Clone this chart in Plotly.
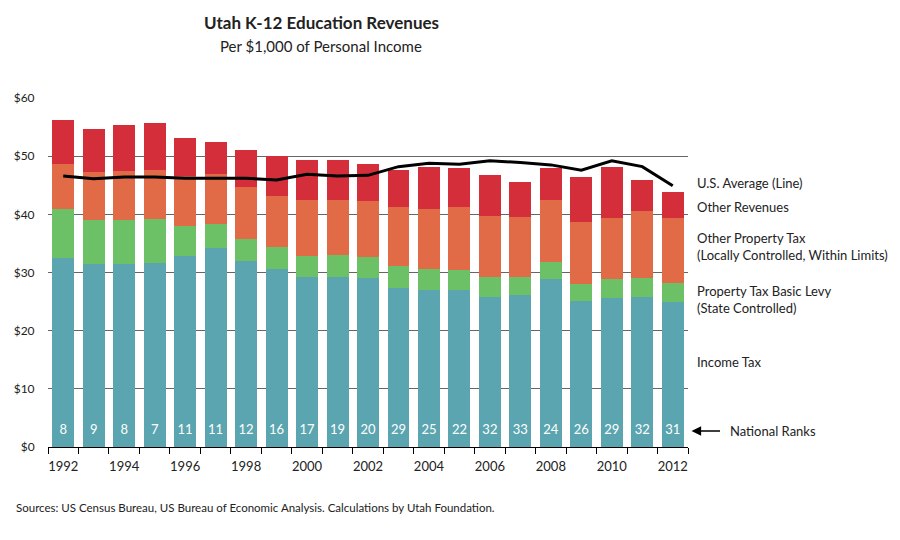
import plotly.graph_objects as go

years = list(range(1992, 2013))
income_tax = [32.5, 31.5, 31.5, 31.6, 32.8, 34.2, 31.9, 30.6, 29.2, 29.2, 29.1,
              27.3, 27.0, 27.0, 25.8, 26.2, 28.8, 25.1, 25.7, 25.8, 25.0]
basic_levy = [8.5, 7.5, 7.6, 7.6, 5.2, 4.1, 3.9, 3.7, 3.7, 3.8, 3.5,
              3.8, 3.6, 3.5, 3.4, 3.1, 3.0, 2.9, 3.2, 3.3, 3.2]
other_prop = [7.7, 8.3, 8.3, 8.5, 8.6, 8.7, 8.9, 8.8, 9.6, 9.5, 9.7,
              10.2, 10.4, 10.7, 10.5, 10.3, 10.7, 10.7, 10.5, 11.5, 11.2]
other_rev = [7.6, 7.4, 8.0, 8.0, 6.6, 5.5, 6.3, 6.9, 6.9, 6.8, 6.4,
             6.4, 7.2, 6.8, 7.0, 5.9, 5.5, 7.7, 8.7, 5.3, 4.4]
us_average = [46.6, 46.1, 46.4, 46.4, 46.2, 46.2, 46.2, 45.9, 46.9, 46.6, 46.7,
              48.2, 48.8, 48.6, 49.2, 48.9, 48.5, 47.6, 49.2, 48.2, 44.9]
national_ranks = [8, 9, 8, 7, 11, 11, 12, 16, 17, 19, 20,
                  29, 25, 22, 32, 33, 24, 26, 29, 32, 31]

y_ticks = [0, 10, 20, 30, 40, 50, 60]
y_labels = ["$0", "$10", "$20", "$30", "$40", "$50", "$60"]
x_label_years = list(range(1992, 2013, 2))

FONT = "Lato"
C_TEAL = "#5BA5B0"
C_GREEN = "#6CC066"
C_ORANGE = "#E06B46"
C_RED = "#D32E3A"

fig = go.Figure()
for name, vals, col in [("Income Tax", income_tax, C_TEAL),
                        ("Property Tax Basic Levy", basic_levy, C_GREEN),
                        ("Other Property Tax", other_prop, C_ORANGE),
                        ("Other Revenues", other_rev, C_RED)]:
    fig.add_trace(go.Bar(x=years, y=vals, name=name, marker=dict(color=col, line=dict(width=0)),
                         hoverinfo="skip"))

fig.add_trace(go.Scatter(x=years, y=us_average, mode="lines", name="U.S. Average",
                         line=dict(color="black", width=3), hoverinfo="skip"))

fig.add_trace(go.Scatter(x=years, y=[2.75] * len(years), mode="text",
                         text=[str(r) for r in national_ranks],
                         textfont=dict(family=FONT, size=13, color="white"),
                         hoverinfo="skip"))

fig.update_layout(
    barmode="stack",
    bargap=0.28,
    width=900, height=540,
    margin=dict(l=48, r=212, t=98, b=93),
    paper_bgcolor="white", plot_bgcolor="white",
    showlegend=False,
    font=dict(family=FONT, size=12, color="#222"),
    xaxis=dict(range=[1991.5, 2012.5], tickmode="array", tickvals=x_label_years,
               ticktext=[str(y) for y in x_label_years], ticks="outside", ticklen=7,
               tickcolor="rgba(0,0,0,0)",
               showgrid=False, showline=True, linecolor="black", linewidth=1.3,
               tickfont=dict(family=FONT, size=13, color="#222"),
               minor=dict(tick0=1991.5, dtick=1, ticks="outside", ticklen=6,
                          tickcolor="black", tickwidth=1, showgrid=False),
               zeroline=False),
    yaxis=dict(range=[0, 60], tickmode="array", tickvals=y_ticks, ticktext=y_labels,
               showgrid=True, gridcolor="#666", gridwidth=1, zeroline=False,
               ticks="outside", ticklen=10, tickcolor="rgba(0,0,0,0)",
               tickfont=dict(family=FONT, size=12, color="#222"), showline=False),
)

ann = [
    ("U.S. Average (Line)", 45.4),
    ("Other Revenues", 41.3),
    ("Other Property Tax<br>(Locally Controlled, Within Limits)", 34.4),
    ("Property Tax Basic Levy<br>(State Controlled)", 25.4),
    ("Income Tax", 14.6),
]
for txt, yv in ann:
    fig.add_annotation(xref="paper", yref="y", x=1.011, y=yv, text=txt, showarrow=False,
                       xanchor="left", yanchor="middle", align="left",
                       font=dict(family=FONT, size=13, color="#222"))

fig.add_annotation(xref="paper", yref="y", x=1.0625, y=2.75, text="National Ranks",
                   showarrow=False, xanchor="left", yanchor="middle",
                   font=dict(family=FONT, size=13, color="#222"))
fig.add_annotation(xref="paper", yref="y", x=1.0055, y=2.75, ax=30, ay=0, text="",
                   showarrow=True, arrowhead=2, arrowsize=1.2, arrowwidth=1.6,
                   arrowcolor="black")

fig.add_annotation(xref="paper", yref="paper", x=(321 - 48) / 640, y=1, yshift=76,
                   text="<b>Utah K-12 Education Revenues</b>", showarrow=False,
                   xanchor="center", yanchor="middle",
                   font=dict(family=FONT, size=17, color="#222"))
fig.add_annotation(xref="paper", yref="paper", x=(321 - 48) / 640, y=1, yshift=52,
                   text="Per $1,000 of Personal Income", showarrow=False,
                   xanchor="center", yanchor="middle",
                   font=dict(family=FONT, size=15, color="#222"))
fig.add_annotation(xref="paper", yref="paper", x=-34 / 640, y=0, yshift=-60,
                   text="Sources: US Census Bureau, US Bureau of Economic Analysis. Calculations by Utah Foundation.",
                   showarrow=False, xanchor="left", yanchor="middle",
                   font=dict(family=FONT, size=11.5, color="#222"))

fig.write_html("out.html")
